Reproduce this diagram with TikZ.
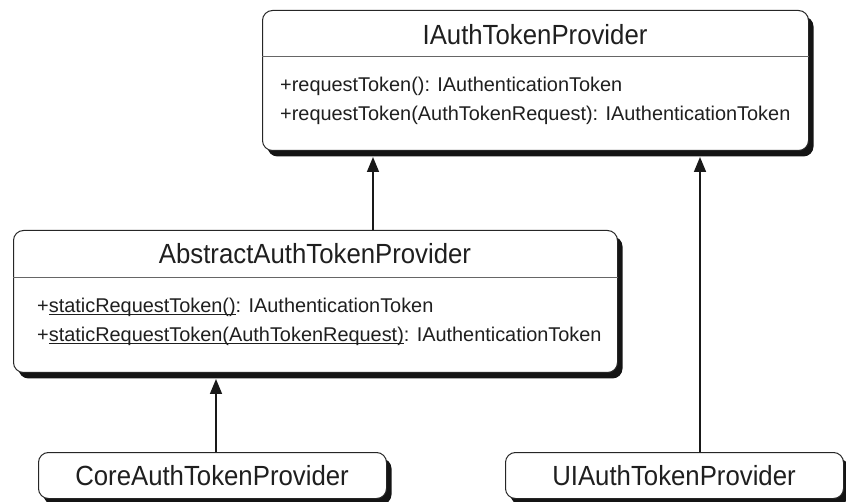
\documentclass[tikz,border=0pt]{standalone}
\usepackage{fontspec}
\setmainfont{Liberation Sans}
\newfontfamily\headfont[FakeStretch=0.93]{Liberation Sans}
\usetikzlibrary{arrows.meta,shadows,calc}

% underline sitting just below the baseline
\newcommand\uln[1]{\leavevmode\setbox0\hbox{#1}\rlap{\rule[-2.4pt]{\wd0}{0.9pt}}\box0}

\begin{document}
\begin{tikzpicture}[x=1pt,y=-1pt,
  classbox/.style={draw=black!85, line width=1pt, fill=white, rounded corners=10pt,
    inner sep=0pt, anchor=north west,
    drop shadow={shadow xshift=5pt, shadow yshift=-6pt, fill=black!92, opacity=1}},
  sepline/.style={draw=black!60, line width=0.8pt},
  headtext/.style={inner sep=0pt, text=black!88,
    font=\headfont\fontsize{27.7pt}{32pt}\selectfont},
  classname/.style={headtext, anchor=base},
  member/.style={anchor=base west, inner sep=0pt, text=black!88,
    font=\fontsize{19.9pt}{24pt}\selectfont},
  leafbox/.style={classbox},
  inherit/.style={draw=black!90, line width=1.6pt,
    -{Triangle[length=15pt,width=12pt]}}
]
\useasboundingbox (0,0) rectangle (846,502);

% interface
\node[classbox, minimum width=546pt, minimum height=140pt] (iface) at (262,10) {};
\draw[sepline] ($(iface.north west)+(0,46)$) -- ($(iface.north east)+(0,46)$);
\node[classname] (ifaceName) at (535,45) {IAuthTokenProvider};
\node[member] (ifaceM1) at (280,92) {+requestToken(): IAuthenticationToken};
\node[member] (ifaceM2) at (280,121) {+requestToken(AuthTokenRequest): IAuthenticationToken};

% abstract base class
\node[classbox, minimum width=604pt, minimum height=142pt] (abstract) at (13,230) {};
\draw[sepline] ($(abstract.north west)+(0,47)$) -- ($(abstract.north east)+(0,47)$);
\node[classname] (abstractName) at (315,264) {AbstractAuthTokenProvider};
\node[member] (abstractM1) at (37,313) {+\uln{staticRequestToken()}: IAuthenticationToken};
\node[member] (abstractM2) at (37,342) {+\uln{staticRequestToken(AuthTokenRequest)}: IAuthenticationToken};

% concrete providers
\node[leafbox, minimum width=348pt, minimum height=46pt] (core) at (38,452) {};
\node[headtext, anchor=base] (coreName) at (212,485) {CoreAuthTokenProvider};
\node[leafbox, minimum width=338pt, minimum height=46pt] (ui) at (505,452) {};
\node[headtext, anchor=base] (uiName) at (674,485) {UIAuthTokenProvider};

% generalisation arrows
\draw[inherit] (373,0 |- abstract.north) -- ([yshift=-6pt]373,0 |- iface.south);
\draw[inherit] (700,0 |- ui.north) -- ([yshift=-6pt]700,0 |- iface.south);
\draw[inherit] (216,0 |- core.north) -- ([yshift=-6pt]216,0 |- abstract.south);
\end{tikzpicture}
\end{document}
